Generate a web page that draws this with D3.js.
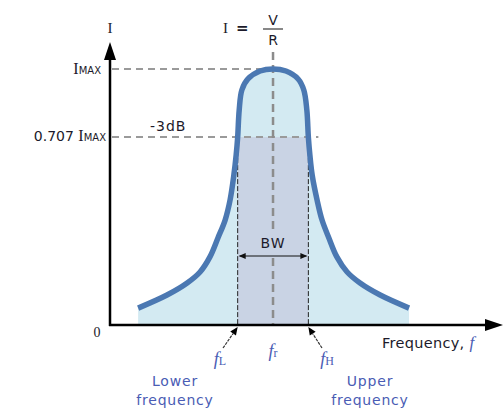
<!DOCTYPE html>
<html><head><meta charset="utf-8">
<script src="https://cdn.jsdelivr.net/npm/d3@7"></script>
<style>
html,body{margin:0;padding:0;background:#fff;}
svg{display:block;}
</style></head>
<body>
<svg id="c" width="503" height="409"></svg>
<script>
// ---- data (frequency in arbitrary units, current as fraction of I_MAX)
const freq = [7.4, 15.0, 20.3, 23.7, 26.3, 28.4, 30.3, 31.6, 32.6, 33.2, 33.6, 34.0, 34.7, 36.3, 39.5, 42.9,
              46.3, 49.5, 51.0, 51.8, 52.2, 52.6, 53.2, 54.5, 55.8, 57.6, 59.7, 62.4, 65.8, 71.1, 78.7];
const current = [0.066, 0.117, 0.164, 0.207, 0.266, 0.340, 0.410, 0.488, 0.586, 0.664, 0.734, 0.840, 0.918, 0.961, 0.992, 1.0,
                 0.992, 0.961, 0.918, 0.840, 0.734, 0.664, 0.586, 0.488, 0.410, 0.340, 0.266, 0.207, 0.164, 0.117, 0.066];
const fL = 33.6, fR = 42.9, fH = 52.2;
const halfPower = 0.734;          // drawn level of the -3dB line
const yTickValues = [0, halfPower, 1];
const xTickValues = [fL, fR, fH];
const xTickSubs = ["L", "r", "H"];

const svg = d3.select("#c");
const x = d3.scaleLinear().domain([0, 100]).range([110, 490]);
const y = d3.scaleLinear().domain([0, 1]).range([325, 69]);
const pts = freq.map((f, i) => [f, current[i]]);

const sans = "'DejaVu Sans', Verdana, sans-serif";
const serif = "'Liberation Serif', 'DejaVu Serif', serif";
const txt = "#1c1a2a";
const blue = "#4a5cb4";

// area under curve
svg.append("path")
  .attr("d", d3.area().x(d => x(d[0])).y0(y(0)).y1(d => y(d[1])).curve(d3.curveCatmullRom)(pts))
  .attr("fill", "#d3eaf2");
// bandwidth band
svg.append("rect")
  .attr("x", x(fL)).attr("y", y(halfPower))
  .attr("width", x(fH) - x(fL)).attr("height", y(0) - y(halfPower))
  .attr("fill", "#c9d3e4");

// gray dashed guide lines
const gray = "#9a9a9a";
svg.append("line").attr("x1", x(0) + 2).attr("x2", x(fR)).attr("y1", y(1)).attr("y2", y(1))
  .attr("stroke", gray).attr("stroke-width", 2).attr("stroke-dasharray", "7,5");
svg.append("line").attr("x1", x(0) + 2).attr("x2", x(fH) + 10).attr("y1", y(halfPower)).attr("y2", y(halfPower))
  .attr("stroke", gray).attr("stroke-width", 2).attr("stroke-dasharray", "7,5");
svg.append("line").attr("x1", x(fR)).attr("x2", x(fR)).attr("y1", 52).attr("y2", 230)
  .attr("stroke", "#8c8c8c").attr("stroke-width", 2.5).attr("stroke-dasharray", "8,5");
svg.append("line").attr("x1", x(fR)).attr("x2", x(fR)).attr("y1", 258).attr("y2", y(0))
  .attr("stroke", "#8c8c8c").attr("stroke-width", 2.5).attr("stroke-dasharray", "8,5");

// fL / fH dashed black lines
[fL, fH].forEach(f => {
  svg.append("line").attr("x1", x(f)).attr("x2", x(f)).attr("y1", y(halfPower)).attr("y2", y(0))
    .attr("stroke", "#222").attr("stroke-width", 1).attr("stroke-dasharray", "5,2");
});

// curve
svg.append("path")
  .attr("d", d3.line().x(d => x(d[0])).y(d => y(d[1])).curve(d3.curveCatmullRom)(pts))
  .attr("fill", "none").attr("stroke", "#4b78b2").attr("stroke-width", 5.5).attr("stroke-linecap", "butt")
  .attr("stroke-linejoin", "round");

// BW arrow
const bwY = 256;
svg.append("line").attr("x1", x(fL) + 2).attr("x2", x(fH) - 2).attr("y1", bwY).attr("y2", bwY)
  .attr("stroke", "#111").attr("stroke-width", 1);
svg.append("path").attr("d", `M${x(fL)+1},${bwY} l7,-3 l0,6 z`).attr("fill", "#111");
svg.append("path").attr("d", `M${x(fH)-1},${bwY} l-7,-3 l0,6 z`).attr("fill", "#111");
svg.append("text").attr("x", x(fR)).attr("y", 248).attr("text-anchor", "middle")
  .attr("font-family", sans).attr("font-size", 14).attr("letter-spacing", 1).attr("fill", txt).text("BW");

// axes
const yAxis = d3.axisLeft(y).tickValues(yTickValues).tickSize(0).tickFormat("");
const xAxis = d3.axisBottom(x).tickValues(xTickValues).tickSize(0).tickFormat("");
svg.append("g").attr("transform", `translate(${x(0)},0)`).call(yAxis).call(g => g.select(".domain").remove());
svg.append("g").attr("transform", `translate(0,${y(0)})`).call(xAxis).call(g => g.select(".domain").remove());

svg.append("line").attr("x1", x(0)).attr("x2", x(0)).attr("y1", y(0) + 1).attr("y2", 58)
  .attr("stroke", "#000").attr("stroke-width", 2.5);
svg.append("path").attr("d", `M${x(0)},42 L${x(0)-6},60 L${x(0)+6},60 Z`).attr("fill", "#000");
svg.append("line").attr("x1", x(0) - 1).attr("x2", 488).attr("y1", y(0)).attr("y2", y(0))
  .attr("stroke", "#000").attr("stroke-width", 2.5);
svg.append("path").attr("d", `M503,${y(0)} L485,${y(0)-6} L485,${y(0)+6} Z`).attr("fill", "#000");

// axis titles
svg.append("text").attr("x", x(0)).attr("y", 33).attr("text-anchor", "middle")
  .attr("font-family", serif).attr("font-size", 15).attr("fill", txt).text("I");
const ft = svg.append("text").attr("x", 382).attr("y", 348).attr("font-family", sans).attr("font-size", 14.5)
  .attr("fill", txt).attr("letter-spacing", 0.3);
ft.append("tspan").text("Frequency, ");
ft.append("tspan").attr("font-family", serif).attr("font-style", "italic").attr("font-size", 17).attr("fill", blue).text("f");

// I = V / R
svg.append("text").attr("x", 223).attr("y", 33).attr("font-family", serif).attr("font-size", 15).attr("fill", txt).text("I");
svg.append("text").attr("x", 236).attr("y", 33).attr("font-family", sans).attr("font-size", 15).attr("font-weight", "bold").attr("fill", txt).text("=");
svg.append("text").attr("x", x(fR)).attr("y", 25).attr("text-anchor", "middle").attr("font-family", sans).attr("font-size", 14).attr("fill", txt).text("V");
svg.append("line").attr("x1", x(fR) - 10).attr("x2", x(fR) + 10).attr("y1", 29).attr("y2", 29).attr("stroke", "#888").attr("stroke-width", 2);
svg.append("text").attr("x", x(fR)).attr("y", 45).attr("text-anchor", "middle").attr("font-family", sans).attr("font-size", 14).attr("fill", txt).text("R");

// y tick labels
function imax(sel) {
  sel.append("tspan").attr("font-family", serif).attr("font-size", 16).text("I");
  sel.append("tspan").attr("font-family", sans).attr("font-size", 10).text("MAX");
}
const t1 = svg.append("text").attr("x", 101).attr("y", y(1) + 5).attr("text-anchor", "end").attr("fill", txt);
imax(t1);
const t2 = svg.append("text").attr("x", 106).attr("y", y(halfPower) + 4).attr("text-anchor", "end").attr("fill", txt);
t2.append("tspan").attr("font-family", sans).attr("font-size", 14).text("0.707 ");
imax(t2);
svg.append("text").attr("x", 97).attr("y", y(0) + 12).attr("text-anchor", "middle")
  .attr("font-family", serif).attr("font-size", 14).attr("fill", txt).text("0");

// -3dB
svg.append("text").attr("x", 150).attr("y", 131).attr("font-family", sans).attr("font-size", 14)
  .attr("letter-spacing", 1).attr("fill", txt).text("-3dB");

// frequency markers
const labPos = [[220, 365], [x(fR), 357], [327, 365]];
xTickValues.forEach((f, i) => {
  const t = svg.append("text").attr("x", labPos[i][0]).attr("y", labPos[i][1]).attr("text-anchor", "middle").attr("fill", blue);
  t.append("tspan").attr("font-family", serif).attr("font-style", "italic").attr("font-size", 18).text("f");
  t.append("tspan").attr("font-family", serif).attr("font-size", 12).text(xTickSubs[i]);
});
// pointer arrows
[[fL, 223, 348], [fH, 322, 348]].forEach(([f, sx, sy]) => {
  const tx = x(f), ty = y(0) + 2;
  const ang = Math.atan2(ty - sy, tx - sx);
  const hx = tx - 8 * Math.cos(ang), hy = ty - 8 * Math.sin(ang);
  svg.append("line").attr("x1", sx).attr("y1", sy).attr("x2", hx).attr("y2", hy)
    .attr("stroke", "#333").attr("stroke-width", 1.2).attr("stroke-dasharray", "3,1");
  const px = -Math.sin(ang) * 3.5, py = Math.cos(ang) * 3.5;
  svg.append("path").attr("d", `M${tx},${ty} L${hx+px},${hy+py} L${hx-px},${hy-py} Z`).attr("fill", "#000");
});

// captions
[["Lower", "frequency", 175], ["Upper", "frequency", 370]].forEach(([a, b, cx]) => {
  svg.append("text").attr("x", cx).attr("y", 386).attr("text-anchor", "middle").attr("font-family", sans)
    .attr("font-size", 14).attr("letter-spacing", 0.8).attr("fill", blue).text(a);
  svg.append("text").attr("x", cx).attr("y", 405).attr("text-anchor", "middle").attr("font-family", sans)
    .attr("font-size", 14).attr("letter-spacing", 0.8).attr("fill", blue).text(b);
});
</script>
</body></html>
